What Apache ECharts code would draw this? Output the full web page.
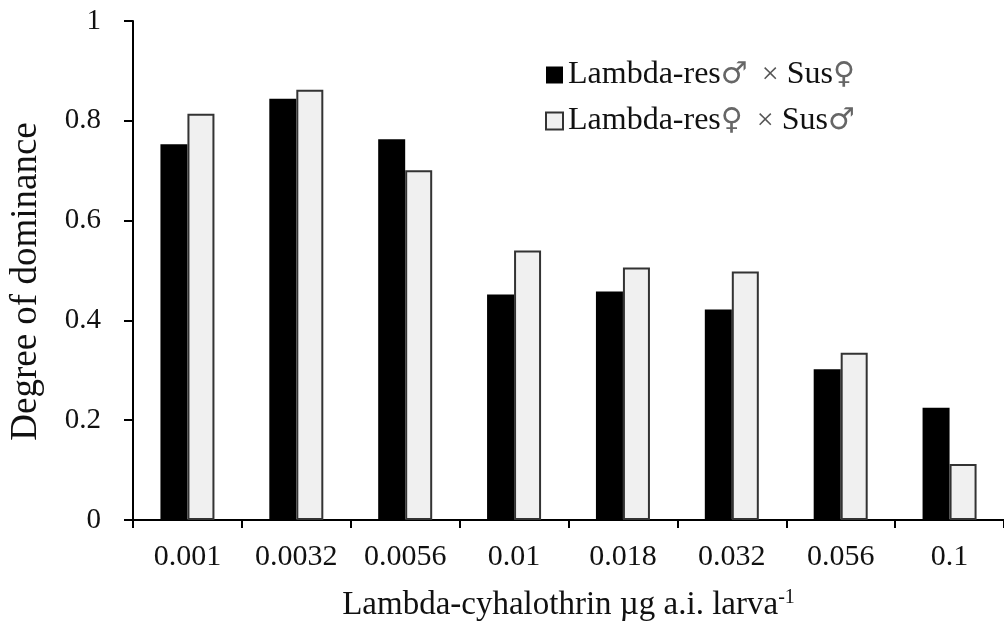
<!DOCTYPE html>
<html>
<head>
<meta charset="utf-8">
<script src="https://cdn.jsdelivr.net/npm/echarts@6/dist/echarts.min.js"></script>
<style>
  html, body { margin: 0; padding: 0; background: #fff; }
  #chart { width: 1004px; height: 636px; }
</style>
</head>
<body>
<div id="chart"></div>
<script>
// Doses (µg a.i. per larva)
const doses = ['0.001', '0.0032', '0.0056', '0.01', '0.018', '0.032', '0.056', '0.1'];
// Degree of dominance for the two reciprocal crosses
const resMaleSusFemale = [0.753, 0.844, 0.763, 0.452, 0.458, 0.422, 0.302, 0.225];
const resFemaleSusMale = [0.814, 0.862, 0.701, 0.540, 0.506, 0.498, 0.335, 0.112];
const seriesNames = ['Lambda-res\u2642 \u00d7 Sus\u2640', 'Lambda-res\u2640 \u00d7 Sus\u2642'];

const font = '"Liberation Serif", "Times New Roman", serif';
const symFont = '"DejaVu Sans", sans-serif';
const ink = '#111';
const chart = echarts.init(document.getElementById('chart'), null, { renderer: 'canvas' });

// Wrap sex symbols and the cross sign in their own rich-text styles
function legendLabel(name) {
  return name.replace(/([^\u2642\u2640\u00d7]+)|([\u2642\u2640])|( ?\u00d7 ?)/g, function (m, txt, sym, cross) {
    if (txt) return '{t|' + txt + '}';
    if (sym) return '{g|' + sym + '}';
    return '{x|\u00d7}';
  });
}

chart.setOption({
  animation: false,
  backgroundColor: '#ffffff',
  grid: { left: 132, right: 0, top: 21, bottom: 116, containLabel: false },
  legend: {
    orient: 'vertical',
    left: 540,
    top: 54,
    itemWidth: 17,
    itemHeight: 17,
    itemGap: 14,
    formatter: legendLabel,
    textStyle: {
      fontFamily: font, fontSize: 32, color: ink,
      rich: {
        t: { fontFamily: font, fontSize: 32, color: ink, lineHeight: 36 },
        g: { fontFamily: symFont, fontSize: 30, color: '#666', lineHeight: 36 },
        x: { fontFamily: font, fontSize: 30, color: '#555', lineHeight: 36, padding: [0, 8, 0, 6] }
      }
    },
    data: [
      { name: seriesNames[0], icon: 'rect', itemStyle: { color: '#000', borderWidth: 0 } },
      { name: seriesNames[1], icon: 'rect', itemStyle: { color: '#f0f0f0', borderColor: '#333', borderWidth: 2 } }
    ]
  },
  xAxis: {
    type: 'category',
    data: doses,
    name: '{b|Lambda-cyhalothrin \u00b5g a.i. larva}{s|-1}',
    nameLocation: 'middle',
    nameGap: 68,
    nameTextStyle: {
      rich: {
        b: { fontFamily: font, fontSize: 33, color: ink },
        s: { fontFamily: font, fontSize: 20, color: ink, verticalAlign: 'top', padding: [0, 0, 15, 0] }
      }
    },
    axisLine: { lineStyle: { color: '#000', width: 2 } },
    axisTick: { show: true, alignWithLabel: false, inside: false, length: 8, lineStyle: { color: '#000', width: 2 } },
    axisLabel: { margin: 22, fontFamily: font, fontSize: 30, color: ink },
    splitLine: { show: false }
  },
  yAxis: {
    type: 'value',
    min: 0,
    max: 1,
    interval: 0.2,
    name: 'Degree of dominance',
    nameLocation: 'middle',
    nameGap: 88,
    nameTextStyle: { fontFamily: font, fontSize: 37, color: ink, padding: [0, 22, 0, 0] },
    axisLine: { show: true, lineStyle: { color: '#000', width: 2 } },
    axisTick: { show: true, inside: false, length: 9, lineStyle: { color: '#000', width: 2 } },
    axisLabel: { margin: 32, fontFamily: font, fontSize: 29, color: ink },
    splitLine: { show: false }
  },
  series: [
    {
      name: seriesNames[0],
      type: 'bar',
      data: resMaleSusFemale,
      barWidth: 27,
      barGap: '0%',
      itemStyle: { color: '#000' }
    },
    {
      name: seriesNames[1],
      type: 'bar',
      data: resFemaleSusMale,
      barWidth: 27,
      barGap: '0%',
      itemStyle: { color: '#f0f0f0', borderColor: '#333', borderWidth: 2 }
    }
  ]
});
</script>
</body>
</html>
